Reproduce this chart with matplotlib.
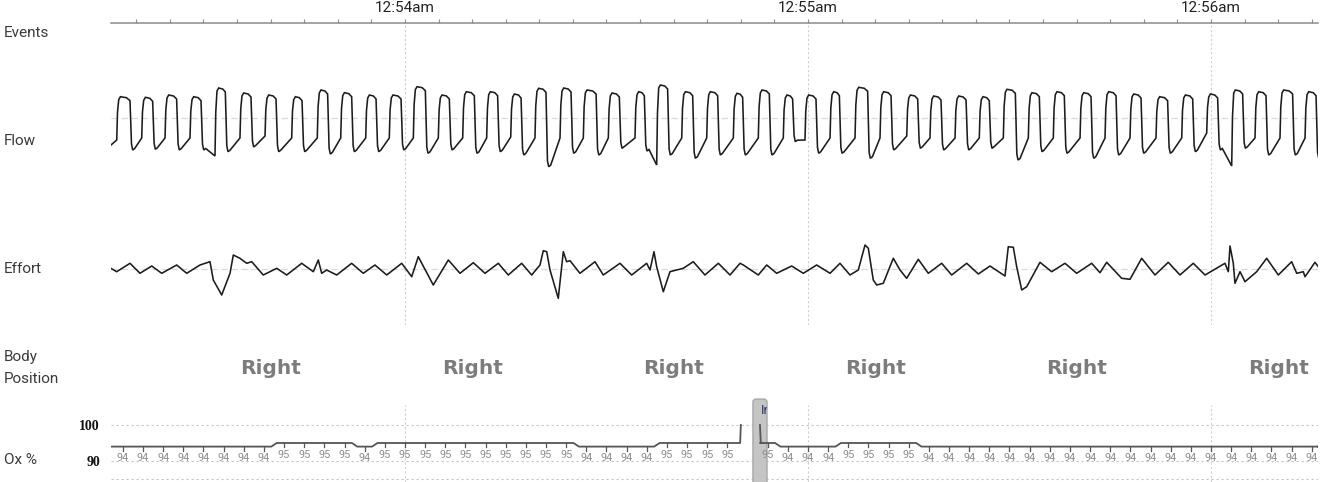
import numpy as np
import matplotlib
matplotlib.use('Agg')
import matplotlib.pyplot as plt
from matplotlib.patches import FancyBboxPatch
from matplotlib.ticker import FixedLocator, FixedFormatter, MultipleLocator
from matplotlib.transforms import Bbox, TransformedBbox

W_PX, H_PX, DPI = 1325, 482, 100

# ---------------- data (time in seconds relative to 12:54:00) ----------------
t_min, t_max = -43.77, 135.93
time_ticks = [0, 60, 120]
time_labels = ['12:54am', '12:55am', '12:56am']

channel_names = ['Events', 'Flow', 'Effort', 'Body\nPosition', 'Ox %']

# Flow: one entry per breath (onset time s, inspiration duration s, peak, trough, level before onset)
flow_start = -27
flow_rise = [-42.92, -39.20, -35.73, -32.01, -28.29, -24.57, -20.84, -16.87, -13.06, -9.57,
             -5.85, -2.34, 1.24, 4.96, 8.59, 12.16, 15.74, 19.35, 23.08, 26.55,
             30.27, 34.24, 37.47, 41.20, 44.92, 48.88, 52.60, 56.32, 59.55, 63.28,
             67.00, 70.72, 74.70, 78.16, 81.89, 85.50, 89.08, 92.80, 96.52, 100.50,
             104.22, 107.94, 111.81, 115.64, 119.36, 123.08, 126.55, 130.27, 134.00]
flow_insp = [2.08, 1.73, 1.83, 1.74, 1.64, 1.74, 1.74, 1.64, 1.64, 1.73,
             1.64, 1.85, 1.89, 1.74, 1.83, 1.73, 1.64, 1.74, 1.74, 2.00,
             1.74, 1.49, 1.73, 1.73, 1.73, 1.49, 1.74, 1.49, 1.74, 1.49,
             1.98, 1.74, 1.73, 1.74, 1.74, 1.59, 1.89, 1.74, 1.74, 1.74,
             1.74, 1.74, 1.83, 1.73, 1.73, 1.73, 1.74, 1.98, 1.74]
flow_peak = [21.3, 20.7, 23.0, 21.3, 30.0, 25.0, 23.0, 21.3, 28.0, 25.3,
             23.0, 23.0, 31.3, 23.0, 26.3, 26.3, 24.0, 29.7, 30.0, 28.0,
             25.0, 26.3, 33.0, 26.3, 26.3, 24.7, 28.0, 23.0, 23.0, 26.3,
             30.7, 26.3, 23.0, 22.0, 22.0, 21.3, 28.7, 25.3, 26.3, 25.3,
             26.3, 24.0, 21.3, 23.0, 24.0, 28.0, 26.3, 28.0, 26.3]
flow_trough = [-32.0, -31.3, -32.0, -32.0, -33.7, -29.0, -33.7, -33.7, -36.0, -33.7,
               -33.7, -32.0, -35.3, -32.0, -35.3, -33.7, -37.0, -48.7, -35.3, -37.0,
               -30.3, -33.0, -37.0, -40.3, -37.0, -37.0, -37.0, -23.7, -35.3, -35.3,
               -40.3, -32.0, -30.3, -32.0, -32.0, -30.3, -42.0, -33.7, -35.3, -40.3,
               -37.0, -35.3, -35.3, -33.7, -32.0, -30.3, -37.0, -37.0, -40.3]
flow_pre = [-22, -20, -20, -20, -38, -20, -18, -20, -20, -20,
            -20, -20, -20, -20, -20, -20, -19, -20, -20, -20,
            -20, -20, -47, -20, -20, -20, -20, -20, -22, -20,
            -20, -20, -18, -20, -20, -20, -20, -20, -20, -20,
            -20, -20, -20, -20, -15, -48, -20, -20, -20]

# Effort trace (turning points)
effort_t = [-43.80, -42.92, -40.94, -39.45, -37.71, -36.22, -33.99, -32.50, -30.52, -29.03,
            -28.54, -27.29, -26.05, -25.56, -24.57, -23.57, -22.82, -21.10, -19.10, -17.61,
            -15.38, -13.65, -12.91, -12.40, -11.66, -10.17, -7.94, -6.21, -4.47, -2.72,
            -0.49, 1.00, 1.98, 4.21, 6.45, 8.19, 10.17, 11.91, 13.89, 15.38,
            17.37, 18.86, 20.10, 20.59, 21.10, 21.59, 22.82, 23.57, 24.07, 24.57,
            26.05, 28.29, 29.52, 32.01, 33.75, 35.98, 36.48, 37.07, 37.47, 38.46,
            39.45, 41.43, 42.92, 44.66, 46.65, 48.39, 49.88, 50.37, 52.60, 53.85,
            55.34, 57.57, 59.30, 61.29, 63.28, 64.76, 66.25, 67.49, 68.49, 68.98,
            69.72, 70.23, 71.21, 72.70, 73.70, 74.69, 76.42, 77.91, 79.90, 81.39,
            83.63, 85.36, 87.10, 89.33, 89.82, 90.57, 91.07, 91.82, 92.56, 94.54,
            96.28, 98.26, 100.00, 102.24, 103.47, 104.47, 106.70, 107.94, 109.68, 111.66,
            113.64, 115.38, 117.36, 119.11, 122.08, 122.58, 122.83, 123.32, 123.57, 124.32,
            125.06, 126.80, 128.29, 130.02, 132.01, 132.76, 133.74, 134.00, 135.48, 135.98]
effort_v = [1.0, -2.4, 6.0, -4.0, 3.3, -4.0, 4.3, -4.0, 4.3, 7.6,
            -10.7, -25.7, -4.0, 14.3, 11.0, 6.0, 7.6, -5.7, 1.0, -5.7,
            6.0, -2.4, 9.3, -4.0, -0.7, -5.7, 6.0, -4.0, 4.3, -5.7,
            6.0, -7.4, 12.6, -15.7, 9.3, -4.0, 6.6, -4.0, 6.0, -5.7,
            6.0, -5.7, 4.3, 18.6, 17.6, -0.7, -29.0, 17.6, 7.6, 8.6,
            -4.0, 7.6, -5.7, 6.0, -5.7, 6.0, -0.7, 17.6, 2.6, -22.4,
            -2.4, 1.0, 7.6, -5.7, 6.0, -5.7, 6.0, 4.3, -5.7, 4.3,
            -4.0, 3.3, -4.0, 4.3, -4.0, 6.0, -5.7, -0.7, 24.3, 21.0,
            -10.7, -15.7, -14.0, 11.0, -0.7, -9.0, 10.0, -4.0, 6.0, -5.7,
            6.0, -4.7, 3.3, -6.7, 22.6, 22.0, 2.6, -20.7, -17.4, 7.0,
            -2.4, 6.0, -4.0, 6.0, -3.4, 7.0, -9.0, -10.0, 11.0, -5.7,
            7.0, -5.7, 6.0, -5.7, 6.0, -2.4, 23.3, 6.0, -14.0, -2.4,
            -12.4, -2.4, 11.0, -5.7, 7.6, -4.0, -2.4, -7.4, 7.0, 2.6]

# Body position (30 s epochs, centre times)
body_t = [-20, 10, 40, 70, 100, 130]
body_labels = ['Right', 'Right', 'Right', 'Right', 'Right', 'Right']

# Oximetry (one reading every 3 s)
ox_times = np.arange(-42, 136, 3)
nan = np.nan
ox_values = [94, 94, 94, 94, 94, 94, 94, 94, 95, 95,
             95, 95, 94, 95, 95, 95, 95, 95, 95, 95,
             95, 95, 95, 94, 94, 94, 94, 95, 95, 95,
             95, nan, 95, 94, 94, 94, 95, 95, 95, 95,
             94, 94, 94, 94, 94, 94, 94, 94, 94, 94,
             94, 94, 94, 94, 94, 94, 94, 94, 94, 94]
ox_yticks = [90, 100]
ox_artifact = [50.0, 52.85]     # line jumps to artifact value and resumes
ox_artifact_value = 100
event_span = [51.8, 53.9]
event_text = 'Invalid'

# ---------------- figure ----------------
fig = plt.figure(figsize=(W_PX / DPI, H_PX / DPI), dpi=DPI)
fig.patch.set_facecolor('white')

L, R = 111, 1318


def band(y0, y1):
    return [L / W_PX, 1 - y1 / H_PX, (R - L) / W_PX, (y1 - y0) / H_PX]


def clean(ax):
    ax.set_facecolor('none')
    for s in ax.spines.values():
        s.set_visible(False)
    ax.set_xticks([])
    ax.set_yticks([])
    ax.set_xlim(t_min, t_max)


TXT = '#3a3a3a'
LINE = '#1c1c1c'
GRID = '#d9d9d9'
VGRID = '#cfcfcf'

# time axis / vertical minute lines for Flow+Effort
ax_time = fig.add_axes(band(23, 325))
clean(ax_time)
ax_time.set_ylim(0, 1)
ax_time.spines['top'].set_visible(True)
ax_time.spines['top'].set_color('#8c8c8c')
ax_time.spines['top'].set_linewidth(1.1)
ax_time.xaxis.set_ticks_position('top')
ax_time.xaxis.set_major_locator(FixedLocator(time_ticks))
ax_time.xaxis.set_major_formatter(FixedFormatter(time_labels))
ax_time.xaxis.set_minor_locator(MultipleLocator(5))
ax_time.tick_params(axis='x', which='both', direction='out', length=3.2, width=0.8,
                    color='#8c8c8c', labelsize=11, pad=2.5, labelcolor='#222222')
for lab in ax_time.get_xticklabels():
    lab.set_family('Roboto')
for tt in time_ticks:
    ax_time.axvline(tt, ymin=0, ymax=0.993, color=VGRID, lw=0.8, ls=(0, (2, 2)))

# Flow
ax_flow = fig.add_axes(band(60, 205))
clean(ax_flow)
ax_flow.set_ylim(-87, 58)
ax_flow.axhline(0, color=GRID, lw=0.9, ls=(0, (5, 3)))
ft, fv = [t_min], [flow_start]
for r, d, p, tr, pre in zip(flow_rise, flow_insp, flow_peak, flow_trough, flow_pre):
    ft += [r, r + 0.12, r + 0.3, r + 0.55, r + 0.7 * d, r + d - 0.1, r + d + 0.12, r + d + 0.3, r + d + 0.6]
    fv += [pre, pre + 0.65 * (p - pre), p - 3, p, p - 1, p - 4, tr + 6, tr, tr + 1.5]
ax_flow.plot(ft, fv, color=LINE, lw=1.15, solid_joinstyle='miter')

# Effort
ax_eff = fig.add_axes(band(215, 325))
clean(ax_eff)
ax_eff.set_ylim(-55.7, 54.3)
ax_eff.axhline(0, color=GRID, lw=0.9, ls=(0, (5, 3)))
ax_eff.plot(effort_t, effort_v, color=LINE, lw=1.15)

# Body position
ax_body = fig.add_axes(band(330, 400))
clean(ax_body)
ax_body.set_ylim(0, 1)
for bt, bl in zip(body_t, body_labels):
    ax_body.text(bt, 0.371, bl, ha='center', va='baseline', fontsize=14.5,
                 fontweight='bold', color='#7c7c7c', family='DejaVu Sans')

# Oximetry
ax_ox = fig.add_axes(band(395, 482))
clean(ax_ox)
ax_ox.set_ylim(84.17, 108.33)
ax_ox.set_yticks(ox_yticks)
ax_ox.set_yticklabels([str(v) for v in ox_yticks], family='Liberation Serif',
                      fontweight='bold', fontsize=10, color='#111111')
ax_ox.tick_params(axis='y', length=0, pad=8)
for gv in ox_yticks + [85]:
    ax_ox.axhline(gv, color='#c4c4c4', lw=0.8, ls=(0, (2, 2.5)), zorder=1)
for tt in time_ticks:
    ax_ox.axvline(tt, ymin=0, ymax=0.885, color=VGRID, lw=0.8, ls=(0, (2, 2)), zorder=1)

# event box
box = FancyBboxPatch((event_span[0], 80), event_span[1] - event_span[0], 107.2 - 80,
                     boxstyle='round,pad=0,rounding_size=0.45', mutation_aspect=1.866,
                     facecolor='#c5c5c5', edgecolor='#a3a3a3', lw=0.9, zorder=2)
ax_ox.add_patch(box)
et = ax_ox.text(53.0, 104.0, event_text, ha='left', va='center', fontsize=9.5,
                color='#2b3a6b', family='Roboto', zorder=3)
et.set_clip_path(None)
et.set_clip_box(TransformedBbox(Bbox([[event_span[0], 80], [event_span[1] - 0.05, 107.2]]),
                                ax_ox.transData))
et.set_clip_on(True)

# oximetry line, split at the artifact
vals = np.array(ox_values, dtype=float)
gap = int(np.where(np.isnan(vals))[0][0])
HOLD = 1.1
seg1_t, seg1_v = [t_min], [vals[0]]
for t, v in zip(ox_times[:gap], vals[:gap]):
    seg1_t += [t - HOLD, t + HOLD]
    seg1_v += [v, v]
seg1_t += [ox_artifact[0] - 0.1, ox_artifact[0]]
seg1_v += [vals[gap - 1], ox_artifact_value]
seg2_t, seg2_v = [ox_artifact[1], ox_artifact[1] + 0.12], [ox_artifact_value, vals[gap + 1]]
for t, v in zip(ox_times[gap + 1:], vals[gap + 1:]):
    seg2_t += [t - HOLD, t + HOLD]
    seg2_v += [v, v]
seg2_t += [t_max]
seg2_v += [vals[-1]]
for st, sv in ((seg1_t, seg1_v), (seg2_t, seg2_v)):
    ax_ox.plot(st, sv, color='#555555', lw=1.3, zorder=4)

for t, v in zip(ox_times, vals):
    if np.isnan(v):
        continue
    ax_ox.plot([t, t], [v, v - 1.1], color='#555555', lw=0.9, zorder=4)
    ax_ox.text(t, v - 3.2, f'{int(v)}', ha='center', va='center', fontsize=7.8,
               color='#8c8c8c', family='Roboto', zorder=3)

# channel labels
label_y = [33, 141, 269, 368, 460]
for name, y in zip(channel_names, label_y):
    fig.text(4 / W_PX, 1 - y / H_PX, name, ha='left', va='center', fontsize=11,
             color=TXT, family='Roboto', linespacing=1.7)

fig.savefig('out.png', dpi=DPI, facecolor='white')
